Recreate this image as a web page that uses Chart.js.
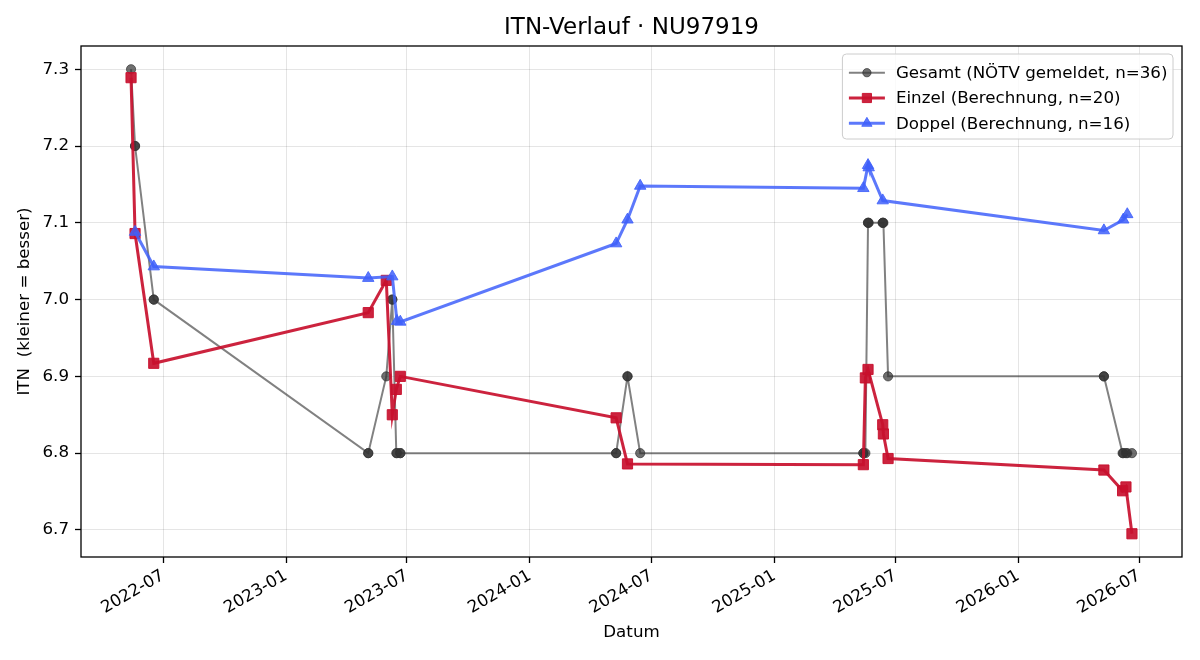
<!DOCTYPE html>
<html><head><meta charset="utf-8">
<script src="https://cdn.jsdelivr.net/npm/chart.js@4.4.1/dist/chart.umd.min.js"></script>
<style>html,body{margin:0;padding:0;background:#fff;}canvas{display:block;}</style>
</head><body>
<canvas id="c" width="1200" height="660"></canvas>
<script>
const chartTitle = 'ITN-Verlauf · NU97919';
const xAxisLabel = 'Datum';
const yAxisLabel = 'ITN  (kleiner = besser)';
const seriesNames = ['Gesamt (NÖTV gemeldet, n=36)', 'Einzel (Berechnung, n=20)', 'Doppel (Berechnung, n=16)'];

const gesamtDates = [
  '2022-05-14','2022-05-20','2022-05-20','2022-06-17','2022-06-17',
  '2023-05-04','2023-05-04','2023-05-31','2023-06-09','2023-06-09','2023-06-15','2023-06-16','2023-06-21','2023-06-21',
  '2024-05-09','2024-05-09','2024-05-26','2024-05-26','2024-06-14',
  '2025-05-14','2025-05-14','2025-05-17','2025-05-21','2025-05-21','2025-05-22','2025-06-12','2025-06-12','2025-06-13','2025-06-20',
  '2026-05-09','2026-05-09','2026-06-06','2026-06-07','2026-06-11','2026-06-13','2026-06-20'];
const gesamtValues = [
  7.3,7.2,7.2,7.0,7.0,
  6.8,6.8,6.9,7.0,7.0,6.8,6.8,6.8,6.8,
  6.8,6.8,6.9,6.9,6.8,
  6.8,6.8,6.8,7.1,7.1,7.1,7.1,7.1,7.1,6.9,
  6.9,6.9,6.8,6.8,6.8,6.8,6.8];

const einzelDates = [
  '2022-05-14','2022-05-20','2022-06-17',
  '2023-05-04','2023-05-31','2023-06-09','2023-06-15','2023-06-21',
  '2024-05-09','2024-05-26',
  '2025-05-14','2025-05-17','2025-05-21','2025-06-12','2025-06-13','2025-06-20',
  '2026-05-09','2026-06-06','2026-06-11','2026-06-20'];
const einzelValues = [
  7.289,7.086,6.917,
  6.983,7.025,6.850,6.883,6.900,
  6.846,6.786,
  6.785,6.898,6.909,6.837,6.825,6.793,
  6.778,6.751,6.756,6.695];

const doppelDates = [
  '2022-05-20','2022-06-17',
  '2023-05-04','2023-06-09','2023-06-16','2023-06-21',
  '2024-05-09','2024-05-26','2024-06-14',
  '2025-05-14','2025-05-21','2025-05-22','2025-06-12',
  '2026-05-09','2026-06-07','2026-06-13'];
const doppelValues = [
  7.088,7.043,
  7.028,7.030,6.972,6.971,
  7.073,7.104,7.148,
  7.145,7.175,7.172,7.129,
  7.090,7.104,7.111];

const yTickValues = [6.7, 6.8, 6.9, 7.0, 7.1, 7.2, 7.3];
const xTickLabels = ['2022-07','2023-01','2023-07','2024-01','2024-07','2025-01','2025-07','2026-01','2026-07'];

const FONT = 'DejaVu Sans';
const toTs = s => Date.parse(s.length === 7 ? s + '-01T00:00:00Z' : s + 'T00:00:00Z');
const toPoints = (dates, vals) => dates.map((d, i) => ({x: toTs(d), y: vals[i]}));
const xTickTs = xTickLabels.map(toTs);

const allTs = [...gesamtDates, ...einzelDates, ...doppelDates].map(toTs);
const tMin = Math.min(...allTs), tMax = Math.max(...allTs);
const allVals = [...gesamtValues, ...einzelValues, ...doppelValues];
const vMin = Math.min(...allVals), vMax = Math.max(...allVals);
const xPad = (tMax - tMin) * 0.05, yPad = (vMax - vMin) * 0.05;

const fmtMonth = v => { const d = new Date(v); return d.getUTCFullYear() + '-' + String(d.getUTCMonth() + 1).padStart(2, '0'); };

const styles = [
  {line: 'rgba(51,51,51,0.62)', fill: 'rgba(51,51,51,0.7)', width: 2, shape: 'circle', r: 4.6},
  {line: 'rgba(200,16,46,0.92)', fill: 'rgba(200,16,46,0.92)', width: 3, shape: 'rect', r: 7.2},
  {line: 'rgba(64,96,250,0.85)', fill: 'rgba(64,96,250,0.85)', width: 3, shape: 'triangle', r: 6.6}
];

function ds(i, data, order) {
  const s = styles[i];
  return {
    label: seriesNames[i], data, order,
    borderColor: s.line, borderWidth: s.width, backgroundColor: s.fill,
    pointStyle: s.shape, pointRadius: s.r, pointBackgroundColor: s.fill,
    pointBorderColor: s.fill, pointBorderWidth: 1, tension: 0, fill: false
  };
}

const framePlugin = {
  id: 'frameAndLegend',
  afterDraw(chart) {
    const ctx = chart.ctx, a = chart.chartArea;
    ctx.save();
    ctx.strokeStyle = '#000'; ctx.lineWidth = 1.3;
    ctx.strokeRect(a.left, a.top, a.right - a.left, a.bottom - a.top);
    ctx.fillStyle = '#000';
    ctx.font = '23px "' + FONT + '"';
    ctx.textAlign = 'center'; ctx.textBaseline = 'middle';
    ctx.fillText(chartTitle, (a.left + a.right) / 2, a.top - 18);
    ctx.font = '16.7px "' + FONT + '"';
    const tw = Math.max(...seriesNames.map(n => ctx.measureText(n).width));
    const rowH = 25.3;
    const bw = 53 + tw + 6, bh = 85;
    const bx = a.right - 9 - bw, by = a.top + 8;
    ctx.beginPath();
    if (ctx.roundRect) ctx.roundRect(bx, by, bw, bh, 4); else ctx.rect(bx, by, bw, bh);
    ctx.fillStyle = 'rgba(255,255,255,0.8)'; ctx.fill();
    ctx.strokeStyle = '#cccccc'; ctx.lineWidth = 1; ctx.stroke();
    seriesNames.forEach((name, i) => {
      const s = styles[i];
      const cy = by + 18.7 + i * rowH;
      ctx.beginPath(); ctx.moveTo(bx + 6.5, cy); ctx.lineTo(bx + 42.5, cy);
      ctx.strokeStyle = s.line; ctx.lineWidth = s.width; ctx.stroke();
      ctx.fillStyle = s.fill; ctx.strokeStyle = s.fill; ctx.lineWidth = 1;
      Chart.helpers.drawPoint(ctx, {pointStyle: s.shape, radius: s.r * 0.9, borderWidth: 1, rotation: 0}, bx + 24.5, cy);
      ctx.fillStyle = '#000'; ctx.textAlign = 'left'; ctx.textBaseline = 'middle';
      ctx.fillText(name, bx + 53.5, cy + 1);
    });
    ctx.restore();
  }
};

Chart.defaults.font.family = FONT;
Chart.defaults.color = '#000';

new Chart(document.getElementById('c'), {
  type: 'line',
  data: {
    datasets: [
      ds(0, toPoints(gesamtDates, gesamtValues), 3),
      ds(1, toPoints(einzelDates, einzelValues), 2),
      ds(2, toPoints(doppelDates, doppelValues), 1)
    ]
  },
  options: {
    responsive: false, animation: false, devicePixelRatio: 1,
    events: [],
    layout: {padding: {top: 46, left: 0, right: 18, bottom: 0}},
    plugins: {legend: {display: false}, tooltip: {enabled: false}, title: {display: false}},
    scales: {
      x: {
        type: 'linear', min: tMin - xPad, max: tMax + xPad,
        afterBuildTicks: sc => { sc.ticks = xTickTs.map(v => ({value: v})); },
        afterFit: sc => { sc.height = 103; },
        ticks: {autoSkip: false, minRotation: 30, maxRotation: 30, padding: 3,
                font: {size: 16.7}, color: '#000', callback: v => fmtMonth(v)},
        grid: {color: 'rgba(0,0,0,0.1)', lineWidth: 1, tickColor: '#000', tickLength: 6, tickWidth: 1.3},
        border: {display: false},
        title: {display: true, text: xAxisLabel, font: {size: 16.7}, color: '#000', padding: {top: 0, bottom: 17}}
      },
      y: {
        type: 'linear', min: vMin - yPad, max: vMax + yPad,
        afterBuildTicks: sc => { sc.ticks = yTickValues.map(v => ({value: v})); },
        afterFit: sc => { sc.width = 81; },
        ticks: {autoSkip: false, padding: 6, font: {size: 16.7}, color: '#000', callback: v => Number(v).toFixed(1)},
        grid: {color: 'rgba(0,0,0,0.1)', lineWidth: 1, tickColor: '#000', tickLength: 6, tickWidth: 1.3},
        border: {display: false},
        title: {display: true, text: yAxisLabel, font: {size: 16.7}, color: '#000', padding: {top: 15, bottom: 0}}
      }
    }
  },
  plugins: [framePlugin]
});
</script>
</body></html>
